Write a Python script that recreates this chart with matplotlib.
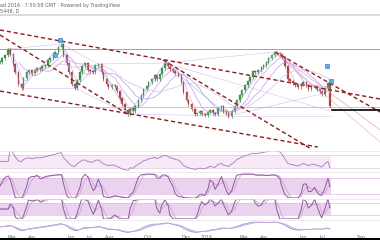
import numpy as np
import pandas as pd
import matplotlib
matplotlib.use("Agg")
import matplotlib.pyplot as plt
import matplotlib.dates as mdates
from matplotlib.patches import Rectangle

# ---------------- data ----------------
closes = [88, 92, 95, 101, 96, 86, 78, 66, 62, 72, 78, 80, 77, 80, 82, 81, 84, 85, 90, 92,
          95, 98, 103, 106, 95, 87, 78, 66, 62, 70, 78, 84, 87, 80, 79, 78, 85, 86, 78, 71,
          66, 63, 65, 64, 59, 52, 46, 40, 36, 42, 39, 44, 50, 55, 61, 64, 68, 71, 75, 71,
          76, 82, 87, 84, 81, 79, 77, 75, 68, 58, 50, 46, 41, 36, 37, 39, 36, 35, 38, 40,
          37, 36, 42, 44, 39, 37, 34, 39, 44, 50, 55, 60, 65, 69, 73, 79, 78, 80, 83, 85,
          88, 92, 95, 98, 97, 96, 93, 84, 71, 69, 67, 65, 63, 66, 68, 65, 61, 64, 64, 61,
          59, 56, 62, 67, 44]
start_date = "2015-02-10"
view_end = "2016-10-01"

tick_dates = ["2015-03-01", "2015-04-01", "2015-06-01", "2015-07-01", "2015-08-01",
              "2015-10-01", "2015-12-01", "2016-01-01", "2016-03-01", "2016-04-01",
              "2016-06-01", "2016-07-01", "2016-09-01"]
tick_labels = ["Mar", "Apr", "Jun", "Jul", "Aug", "Oct", "Dec", "2016", "Mar", "Apr",
               "Jun", "Jul", "Sep"]

# trend lines drawn on the chart: (date, price) pairs
trend_dashed = [
    (("2015-02-10", 120), ("2016-10-01", 51)),
    (("2015-02-10", 59), ("2016-06-25", 3)),
    (("2015-02-10", 115), ("2015-08-30", 36)),
    (("2015-10-25", 90), ("2016-06-12", 2)),
    (("2016-04-19", 98), ("2016-10-01", 38)),
]
hlines_pink = [101, 43]
black_level = (("2016-07-17", 40), ("2016-10-01", 40))
markers_dates = ["2015-05-15", "2015-05-07", "2016-07-09", "2016-07-15"]
markers_prices = [110, 95, 84, 69]
pivots = [3, 8, 23, 28, 37, 48, 62, 86, 103, 121]

header1 = "ad 2016 · 7:50:58 GMT · Powered by TradingView"
header2 = "5448, D"

# ---------------- derived ----------------
dates = pd.bdate_range(start_date, periods=len(closes), freq="3B")
xd = mdates.date2num(dates.to_pydatetime())
c = np.array(closes, dtype=float)
o = np.r_[c[0], c[:-1]]
h = np.maximum(o, c) + 1.5
l = np.minimum(o, c) - 1.5
s = pd.Series(c)

def dn(d):
    return mdates.date2num(pd.Timestamp(d).to_pydatetime())

X0, X1 = dn(start_date), dn(view_end)

W, H = 380, 240
fig = plt.figure(figsize=(3.8, 2.4), dpi=100)
fig.patch.set_facecolor("white")

def add_ax(top, bottom):
    ax = fig.add_axes([0, 1 - bottom / H, 1, (bottom - top) / H])
    ax.set_xlim(X0, X1)
    for sp in ax.spines.values():
        sp.set_visible(False)
    ax.set_xticks([])
    ax.set_yticks([])
    ax.set_facecolor("none")
    return ax

# header
fig.text(0.0, 1 - 6 / H, header1, fontsize=3.5, color="#666666", va="center", ha="left")
fig.text(0.0, 1 - 11 / H, header2, fontsize=3.5, color="#666666", va="center", ha="left")
fig.add_artist(plt.Line2D([0, 1], [1 - 15 / H, 1 - 15 / H], color="#d4d4d4", lw=1.2))

# ---------------- main panel ----------------
ax = add_ax(16, 150)
ax.set_ylim(0, 134)

for lev, col in zip(hlines_pink, ["#d478e0", "#f2b0c6"]):
    ax.axhline(lev, color=col, lw=0.7)

# moving averages (faint lavender)
for win, col in [(4, "#d7b8ec"), (8, "#c9a3e6"), (14, "#bfa2e8"), (22, "#e0bfe8")]:
    ax.plot(xd, s.rolling(win).mean(), color=col, lw=0.6, alpha=0.9)

# zigzag / fans
px = xd[pivots]
py = c[pivots]
ax.plot(px, py, color="#9fb2ee", lw=0.5, alpha=0.8)
for i in range(len(pivots) - 2):
    ax.plot([px[i], px[i + 2]], [py[i], py[i + 2]], color="#b9a8ee", lw=0.4, alpha=0.7)
for j in [6, 7]:
    ax.plot([px[j], xd[-1]], [py[j], c[-1] - 5 * (j - 5)], color="#c8a8e8", lw=0.4, alpha=0.7)
ax.plot([px[8], X1], [py[8], 20], color="#f0a0c8", lw=0.5)
ax.plot([px[8], X1], [py[8], 8], color="#e6a8d8", lw=0.4)

# trend lines
for (d0, p0), (d1, p1) in trend_dashed:
    ax.plot([dn(d0), dn(d1)], [p0, p1], color="#8b1c1c", lw=1.0, ls=(0, (3, 2)))
(d0, p0), (d1, p1) = black_level
ax.plot([dn(d0), dn(d1)], [p0, p1], color="black", lw=1.2)

# candles
up = c >= o
col = np.where(up, "#3f8f4a", "#a8433f")
ax.vlines(xd, l, h, colors=col, lw=0.5)
ax.bar(xd, np.maximum(np.abs(c - o), 0.6), bottom=np.minimum(o, c), width=2.4,
       color=col, edgecolor=col, lw=0.2)

# blue markers
for d, p in zip(markers_dates, markers_prices):
    ax.plot([dn(d)], [p], marker="s", ms=3.2, mfc="#5ab0f0", mec="#2a70b0", mew=0.4)

# ---------------- indicators ----------------
# RSI
delta = s.diff()
gain = delta.clip(lower=0).ewm(alpha=1 / 12, adjust=False).mean()
loss = (-delta.clip(upper=0)).ewm(alpha=1 / 12, adjust=False).mean()
rsi = 100 - 100 / (1 + gain / loss.replace(0, np.nan))
rsi = rsi.fillna(50)

# stochastic
hh = pd.Series(h).rolling(5, min_periods=1).max()
ll = pd.Series(l).rolling(5, min_periods=1).min()
k = (100 * (s - ll) / (hh - ll)).rolling(2, min_periods=1).mean()
dline = k.rolling(3, min_periods=1).mean()

# stoch RSI style
rsi_fast = 100 - 100 / (1 + delta.clip(lower=0).ewm(alpha=1 / 6, adjust=False).mean()
                        / (-delta.clip(upper=0)).ewm(alpha=1 / 6, adjust=False).mean().replace(0, np.nan))
rsi_fast = rsi_fast.fillna(50)
rh = rsi_fast.rolling(6, min_periods=1).max()
rl = rsi_fast.rolling(6, min_periods=1).min()
srsi = (100 * (rsi_fast - rl) / (rh - rl).replace(0, np.nan)).fillna(50).rolling(2, min_periods=1).mean()
srsi_d = srsi.rolling(3, min_periods=1).mean()

# MACD
macd = s.ewm(span=5, adjust=False).mean() - s.ewm(span=12, adjust=False).mean()
sig = macd.ewm(span=4, adjust=False).mean()

xend = xd[-1] + 2
# panel 1
a1 = add_ax(151, 171)
a1.set_ylim(20.8, 82.3)
a1.fill_between([X0, xend], 30, 70, color="#f5eaf6", lw=0)
for lev in (30, 70):
    a1.axhline(lev, color="#e0c4e4", lw=0.5)
a1.plot(xd, rsi, color="#a07cb8", lw=0.6)

# panel 2
a2 = add_ax(173, 198)
a2.set_ylim(5, 98.75)
a2.fill_between([X0, xend], 20, 80, color="#ead3ee", lw=0)
for lev in (20, 80):
    a2.axhline(lev, color="#e2b8e2", lw=0.5)
a2.plot(xd, dline, color="#d6a0d6", lw=0.6)
a2.plot(xd, k, color="#8d5a9e", lw=0.7)

# panel 3
a3 = add_ax(199, 219)
a3.set_ylim(0, 100)
a3.fill_between([X0, xend], 20, 80, color="#ead3ee", lw=0)
for lev in (20, 80):
    a3.axhline(lev, color="#e2b8e2", lw=0.5)
a3.plot(xd, srsi_d, color="#d6a0d6", lw=0.6)
a3.plot(xd, srsi, color="#8d5a9e", lw=0.7)

# panel 4
a4 = add_ax(220, 234)
lim = np.nanmax(np.abs(macd)) * 1.3
a4.set_ylim(-lim, lim)
a4.fill_between(xd, macd, sig, color="#a8b4ec", alpha=0.6, lw=0)
a4.plot(xd, macd, color="#9a86d0", lw=0.5)
a4.plot(xd, sig, color="#d0a0d8", lw=0.4)

# separators
for yy in (150.5, 172, 198.5, 219.5):
    fig.add_artist(plt.Line2D([0, 1], [1 - yy / H] * 2, color="#e4e4e4", lw=0.5))

# x tick labels
a4.set_xticks([dn(t) for t in tick_dates])
a4.set_xticklabels(tick_labels, fontsize=3.4, color="#666666")
a4.tick_params(axis="x", length=0, pad=0.8)

# bottom black strip
fig.add_artist(Rectangle((0, 0), 1, 2.5 / H, transform=fig.transFigure, color="black", lw=0))

fig.savefig("out.png", dpi=100, facecolor="white")
